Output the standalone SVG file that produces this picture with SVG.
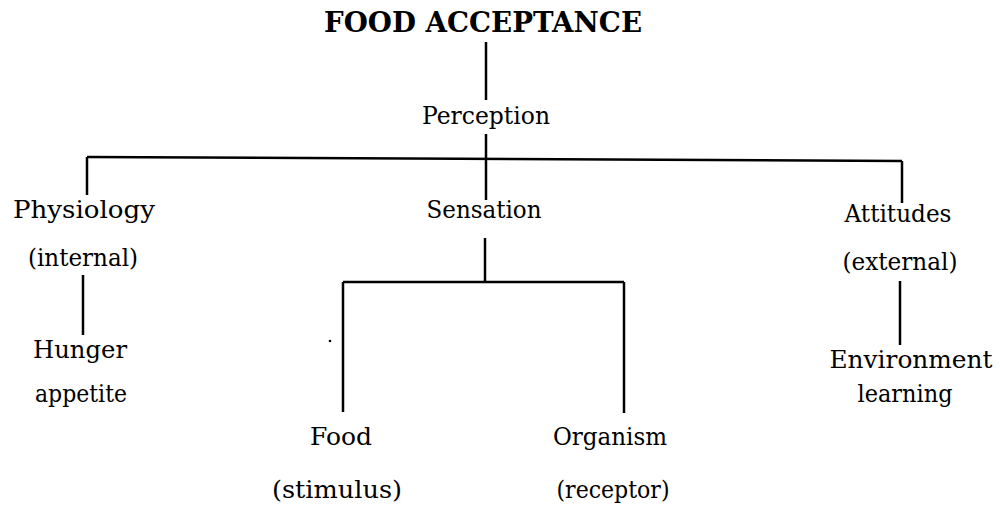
<svg xmlns="http://www.w3.org/2000/svg" width="1000" height="520" viewBox="0 0 1000 520">
<style>
text{font-family:"DejaVu Serif","Liberation Serif",serif;font-size:24px;fill:#000;text-anchor:middle}
.t{font-weight:bold;font-size:28px}
.c line{stroke:#000;stroke-width:2.5;fill:none}
</style>
<rect width="1000" height="520" fill="#fff"/>
<g id="connectors" class="c">
<line x1="486" y1="42" x2="486" y2="100"/>
<line x1="486" y1="134" x2="486" y2="200"/>
<line x1="87" y1="157" x2="902" y2="161"/>
<line x1="87" y1="157" x2="87" y2="195"/>
<line x1="902" y1="161" x2="902" y2="203"/>
<line x1="83" y1="275" x2="83" y2="335"/>
<line x1="485" y1="238" x2="485" y2="282"/>
<line x1="343" y1="282" x2="624" y2="282"/>
<line x1="343" y1="282" x2="343" y2="412"/>
<line x1="624" y1="282" x2="624" y2="413"/>
<line x1="900" y1="281" x2="900" y2="345"/>
</g>
<circle cx="330" cy="341" r="1.3" fill="#000"/>
<g id="title"><text class="t" x="483" y="32" textLength="318" lengthAdjust="spacingAndGlyphs">FOOD ACCEPTANCE</text></g>
<g id="perception"><text x="486" y="124" textLength="128" lengthAdjust="spacingAndGlyphs">Perception</text></g>
<g id="physiology"><text x="84" y="218" textLength="142" lengthAdjust="spacingAndGlyphs">Physiology</text><text x="83" y="266" textLength="110" lengthAdjust="spacingAndGlyphs">(internal)</text></g>
<g id="hunger"><text x="80" y="358" textLength="94" lengthAdjust="spacingAndGlyphs">Hunger</text><text x="81" y="402" textLength="92" lengthAdjust="spacingAndGlyphs">appetite</text></g>
<g id="sensation"><text x="484" y="218" textLength="115" lengthAdjust="spacingAndGlyphs">Sensation</text></g>
<g id="attitudes"><text x="898" y="222" textLength="107" lengthAdjust="spacingAndGlyphs">Attitudes</text><text x="900" y="270" textLength="115" lengthAdjust="spacingAndGlyphs">(external)</text></g>
<g id="environment"><text x="911" y="368" textLength="163" lengthAdjust="spacingAndGlyphs">Environment</text><text x="905" y="402" textLength="95" lengthAdjust="spacingAndGlyphs">learning</text></g>
<g id="food"><text x="341" y="445" textLength="62" lengthAdjust="spacingAndGlyphs">Food</text><text x="337" y="498" textLength="130" lengthAdjust="spacingAndGlyphs">(stimulus)</text></g>
<g id="organism"><text x="610" y="445" textLength="114" lengthAdjust="spacingAndGlyphs">Organism</text><text x="613" y="498" textLength="113" lengthAdjust="spacingAndGlyphs">(receptor)</text></g>
</svg>
